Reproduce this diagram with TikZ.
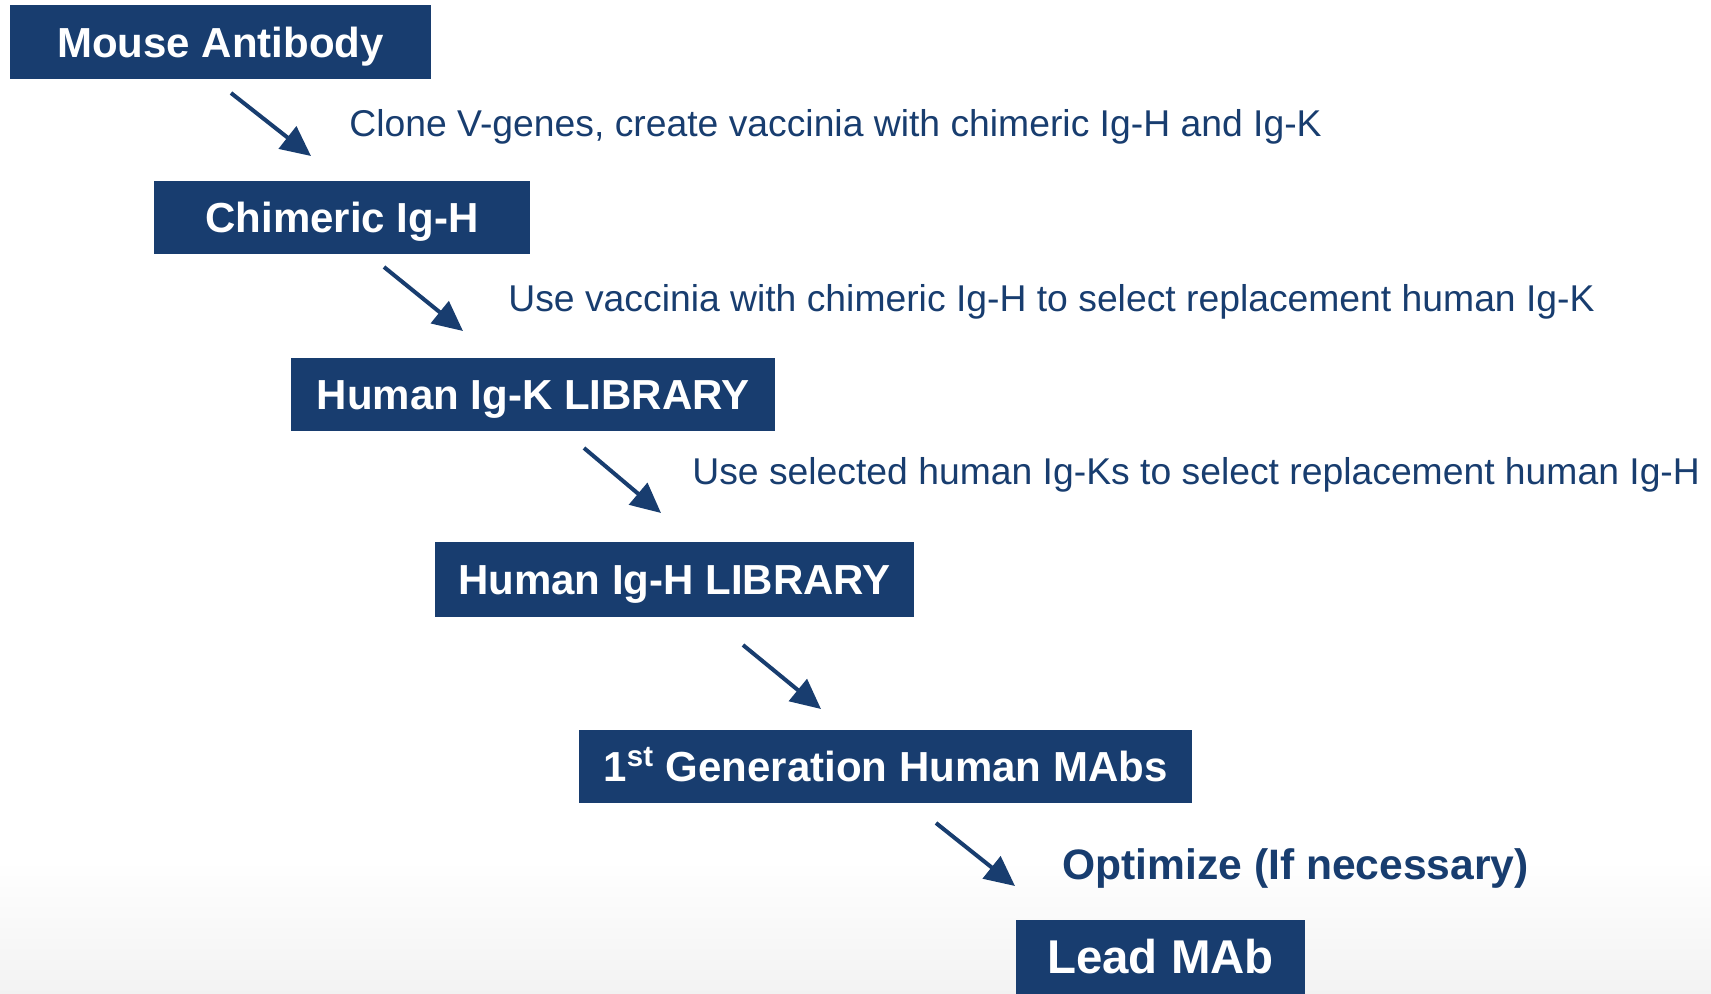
\documentclass[tikz,border=0pt]{standalone}
\usepackage{fontspec}
\setmainfont{Liberation Sans}
\usetikzlibrary{arrows.meta}
\definecolor{navy}{RGB}{24,61,111}
\tikzset{
  box/.style={fill=navy, text=white, font=\bfseries\fontsize{21pt}{25pt}\selectfont, inner sep=0pt, anchor=center, text height=15.04pt, text depth=0pt},
  lbl/.style={text=navy, font=\fontsize{18.65pt}{22pt}\selectfont, anchor=west, inner sep=0pt, text height=13.35pt, text depth=0pt},
  blbl/.style={text=navy, font=\bfseries\fontsize{21.3pt}{25pt}\selectfont, anchor=west, inner sep=0pt, text height=15.25pt, text depth=0pt},
  arr/.style={navy, line width=2pt, -{Triangle[length=15pt,width=14pt]}}
}
\begin{document}
\begin{tikzpicture}[x=0.5pt,y=-0.5pt]
\useasboundingbox (0,0) rectangle (1711,993);
\shade[top color=white, bottom color=black!5] (0,860) rectangle (1711,993);
\node[box, minimum width=210.5pt, minimum height=37pt] (b1) at (220.5,42) {Mouse Antibody};
\node[box, minimum width=188pt, minimum height=36.5pt] (b2) at (342,217.5) {Chimeric Ig-H};
\node[box, minimum width=242pt, minimum height=36.5pt] (b3) at (533,394.5) {Human Ig-K LIBRARY};
\node[box, minimum width=239.5pt, minimum height=37.5pt] (b4) at (674.5,579.5) {Human Ig-H LIBRARY};
\node[box, minimum width=306.5pt, minimum height=36.5pt] (b5) at (885.5,766.5) {1\textsuperscript{st} Generation Human MAbs};
\node[box, minimum width=144.5pt, minimum height=37.5pt, font=\bfseries\fontsize{23.7pt}{28pt}\selectfont, text height=16.97pt] (b6) at (1160.5,957) {Lead MAb};
\node[lbl] (l1) at (349,123) {Clone V-genes, create vaccinia with chimeric Ig-H and Ig-K};
\node[lbl] (l2) at (508,298) {Use vaccinia with chimeric Ig-H to select replacement human Ig-K};
\node[lbl] (l3) at (692,471) {Use selected human Ig-Ks to select replacement human Ig-H};
\node[blbl] (l4) at (1062,864) {Optimize (If necessary)};
\coordinate (a1s) at (231,93);  \coordinate (a1e) at (311,156);
\coordinate (a2s) at (384,267); \coordinate (a2e) at (463,331);
\coordinate (a3s) at (584,448); \coordinate (a3e) at (661,513);
\coordinate (a4s) at (743,645); \coordinate (a4e) at (821,709);
\coordinate (a5s) at (936,823); \coordinate (a5e) at (1015,886);
\draw[arr] (a1s) -- (a1e);
\draw[arr] (a2s) -- (a2e);
\draw[arr] (a3s) -- (a3e);
\draw[arr] (a4s) -- (a4e);
\draw[arr] (a5s) -- (a5e);
\end{tikzpicture}
\end{document}
